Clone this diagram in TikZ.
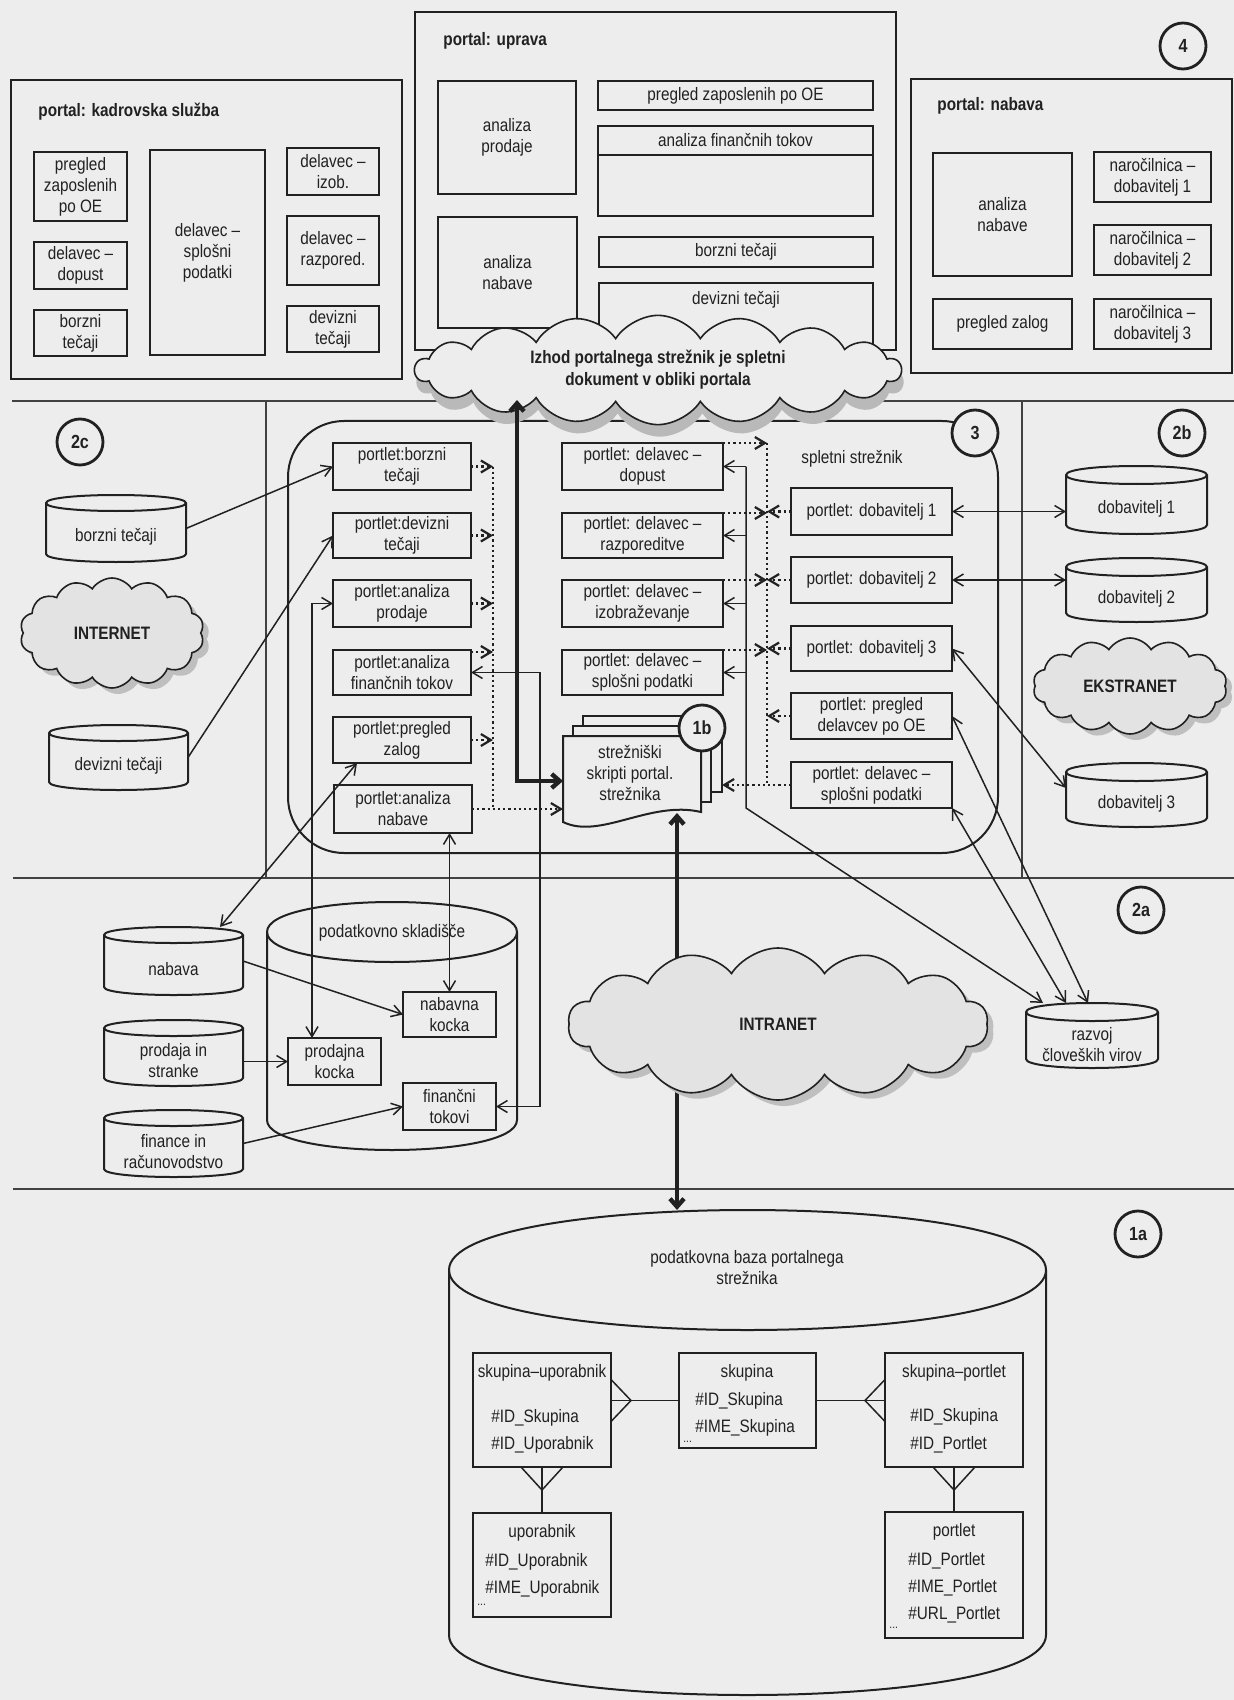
\documentclass[tikz,border=0pt]{standalone}
\usepackage{fontspec}
\setmainfont{Liberation Sans}[FakeStretch=0.85]
\usetikzlibrary{arrows.meta,shapes.symbols,shadows}

\definecolor{bg}{gray}{0.93}
\definecolor{ink}{gray}{0.13}

\tikzset{
  sb/.tip={Straight Barb[length=5pt,width=6pt]},
  ln/.style={draw=ink, line width=1pt},
  bx/.style={ln, fill=bg, inner sep=0pt, outer sep=0pt, align=center, text=ink, font=\fontsize{9}{10.5}\selectfont},
  ttl/.style={anchor=west, inner sep=0pt, text=ink, font=\bfseries\fontsize{9}{10.5}\selectfont},
  txt/.style={inner sep=0pt, align=center, text=ink, font=\fontsize{9}{10.5}\selectfont},
  attr/.style={inner sep=0pt, anchor=west, text=ink, font=\fontsize{9}{10.5}\selectfont},
  dots/.style={inner sep=0pt, anchor=west, text=ink, font=\fontsize{6}{7}\selectfont},
  num/.style={circle, draw=ink, line width=1.4pt, fill=bg, minimum size=23pt, inner sep=0pt, text=ink, font=\bfseries\fontsize{9.5}{10}\selectfont},
  con/.style={draw=ink, line width=0.75pt},
  arr/.style={con, -sb},
  darr/.style={con, sb-sb},
  dot/.style={draw=ink, line width=1.1pt, dash pattern=on 1.1pt off 1.5pt},
  dotarr/.style={dot, -sb},
  thk/.style={draw=ink, line width=2.2pt, {Straight Barb[length=4pt,width=7pt]}-{Straight Barb[length=4pt,width=7pt]}},
  sep/.style={draw=ink!85, line width=1pt},
  net/.style={cloud, cloud puffs=14, cloud puff arc=115, cloud ignores aspect, draw=ink, line width=0.8pt, fill=gray!22, text=ink, font=\bfseries\fontsize{9}{10.5}\selectfont, drop shadow={shadow xshift=3pt, shadow yshift=-3pt, fill=gray!50, opacity=1}},
}

\newcommand\mybox[6]{\node[bx, minimum width={(#4-#2)*0.5pt}, minimum height={(#5-#3)*0.5pt}] (#1) at ({(#2+#4)/2},{(#3+#5)/2}) {#6};}

\newcommand\mycyl[7]{%
  \pgfmathsetmacro\cyA{#3+#6}%
  \pgfmathsetmacro\cyB{#5-#6}%
  \pgfmathsetmacro\cyAu{#3+#6-1.3333*#6}%
  \pgfmathsetmacro\cyAd{#3+#6+1.3333*#6}%
  \pgfmathsetmacro\cyBd{#5-#6+1.3333*#6}%
  \draw[ln, fill=bg] (#2,\cyA) .. controls (#2,\cyAu) and (#4,\cyAu) .. (#4,\cyA) -- (#4,\cyB) .. controls (#4,\cyBd) and (#2,\cyBd) .. (#2,\cyB) -- cycle;
  \draw[ln] (#2,\cyA) .. controls (#2,\cyAd) and (#4,\cyAd) .. (#4,\cyA);
  \node[inner sep=0pt, outer sep=0pt, minimum width={(#4-#2)*0.5pt}, minimum height={(#5-#3)*0.5pt}] (#1) at ({(#2+#4)/2},{(#3+#5)/2}) {};
  \node[txt] (#1t) at ({(#2+#4)/2},{(#3+2*#6+#5)/2}) {#7};
}

\begin{document}
\begin{tikzpicture}[x=0.5pt,y=-0.5pt]
\fill[bg] (0,0) rectangle (1234,1700);
\useasboundingbox (0,0) rectangle (1234,1700);

% ---------- separators
\draw[sep] (12,401) -- (1234,401);
\draw[sep] (13,878) -- (1234,878);
\draw[sep] (13,1189) -- (1234,1189);
\draw[sep] (266,401) -- (266,878);
\draw[sep] (1022,401) -- (1022,878);

% ---------- portal: kadrovska sluzba
\draw[ln] (11,80) rectangle (402,379);
\node[ttl] (tk) at (38,112) {portal: kadrovska služba};
\mybox{kpz}{34}{152}{127}{221}{pregled\\zaposlenih\\po OE}
\mybox{kdd}{34}{242}{127}{289}{delavec –\\dopust}
\mybox{kbt}{34}{310}{127}{356}{borzni\\tečaji}
\mybox{ksp}{150}{150}{265}{355}{delavec –\\splošni\\podatki}
\mybox{kiz}{287}{148}{379}{195}{delavec –\\izob.}
\mybox{kra}{287}{216}{379}{285}{delavec –\\razpored.}
\mybox{kdt}{287}{306}{379}{352}{devizni\\tečaji}

% ---------- portal: uprava
\draw[ln] (415,12) rectangle (896,350);
\node[ttl] (tu) at (443,41) {portal: uprava};
\mybox{uap}{438}{81}{576}{194}{analiza\\prodaje}
\mybox{uan}{438}{217}{577}{328}{analiza\\nabave}
\mybox{upz}{598}{81}{873}{110}{pregled zaposlenih po OE}
\mybox{uaf}{598}{126}{873}{155}{analiza finančnih tokov}
\mybox{uafx}{598}{155}{873}{216}{}
\mybox{ubt}{599}{237}{873}{267}{borzni tečaji}
\draw[ln] (599,345) |- (873,283) -- (873,345);
\node[txt] (udt) at (736,300) {devizni tečaji};

% ---------- portal: nabava
\draw[ln] (911,79) rectangle (1232,373);
\node[ttl] (tn) at (937,106) {portal: nabava};
\mybox{nan}{933}{153}{1072}{276}{analiza\\nabave}
\mybox{nd1}{1094}{152}{1211}{202}{naročilnica –\\dobavitelj 1}
\mybox{nd2}{1094}{225}{1211}{275}{naročilnica –\\dobavitelj 2}
\mybox{npz}{933}{299}{1072}{349}{pregled zalog}
\mybox{nd3}{1094}{299}{1211}{349}{naročilnica –\\dobavitelj 3}
\node[num] (c4) at (1183,46) {4};

% ---------- middle container + output cloud
\draw[ln, rounded corners=28pt] (288,421) rectangle (998,853);
\node[cloud, cloud puffs=18, cloud puff arc=115, cloud ignores aspect, draw=ink, line width=0.8pt, fill=bg,
      minimum width=243pt, minimum height=54pt, align=center, text=ink,
      font=\bfseries\fontsize{9}{11}\selectfont,
      drop shadow={shadow xshift=1pt, shadow yshift=-6pt, fill=gray!55, opacity=1}]
      (izhod) at (658,370) {Izhod portalnega strežnik je spletni\\dokument v obliki portala};

\node[num] (c2c) at (80,442) {2c};
\node[num] (c3) at (975,433) {3};
\node[num] (c2b) at (1182,433) {2b};

% 2c: internet sources
\mycyl{borzni}{46}{495}{186}{562}{8}{borzni tečaji}
\node[net, minimum width=92pt, minimum height=55pt] (internet) at (112,633) {INTERNET};
\mycyl{devizni}{49}{725}{188}{790}{8}{devizni tečaji}

% left portlets
\mybox{pbt}{333}{443}{471}{490}{portlet:borzni\\tečaji}
\mybox{pdt}{333}{513}{471}{558}{portlet:devizni\\tečaji}
\mybox{pap}{333}{580}{471}{627}{portlet:analiza\\prodaje}
\mybox{paf}{333}{650}{471}{695}{portlet:analiza\\finančnih tokov}
\mybox{ppz}{333}{717}{471}{763}{portlet:pregled\\zalog}
\mybox{pan}{334}{785}{472}{833}{portlet:analiza\\nabave}

% middle portlets
\mybox{dd}{562}{443}{723}{490}{portlet: delavec –\\dopust}
\mybox{dr}{562}{513}{723}{558}{portlet: delavec –\\razporeditve}
\mybox{di}{562}{580}{723}{627}{portlet: delavec –\\izobraževanje}
\mybox{ds}{562}{650}{723}{695}{portlet: delavec –\\splošni podatki}

% right portlets
\node[txt] (spl) at (852,459) {spletni strežnik};
\mybox{rd1}{791}{488}{952}{535}{portlet: dobavitelj 1}
\mybox{rd2}{791}{557}{952}{603}{portlet: dobavitelj 2}
\mybox{rd3}{791}{626}{952}{671}{portlet: dobavitelj 3}
\mybox{rpd}{791}{693}{952}{739}{portlet: pregled\\delavcev po OE}
\mybox{rsp}{791}{762}{952}{808}{portlet: delavec –\\splošni podatki}

% 2b: extranet
\mycyl{dob1}{1066}{466}{1207}{534}{9}{dobavitelj 1}
\mycyl{dob2}{1066}{558}{1207}{622}{9}{dobavitelj 2}
\node[net, minimum width=97pt, minimum height=48pt] (ekstranet) at (1130,686) {EKSTRANET};
\mycyl{dob3}{1066}{763}{1207}{827}{9}{dobavitelj 3}

% 1b: server scripts (stacked documents)
\draw[ln, fill=bg] (583,716) rectangle (722,792);
\draw[ln, fill=bg] (573,726) rectangle (711,802);
\draw[ln, fill=bg] (563,736) -- (701,736) -- (701,812) .. controls (650,800) and (600,840) .. (563,822) -- cycle;
\node[inner sep=0pt, outer sep=0pt, minimum width=69pt, minimum height=45pt] (doc) at (632,781) {};
\node[inner sep=0pt, outer sep=0pt, minimum width=69.5pt, minimum height=38pt] (doc3) at (652.5,754) {};
\node[txt] (doct) at (630,773) {strežniški\\skripti portal.\\strežnika};
\node[num] (c1b) at (702,728) {1b};

% ---------- data warehouse section
\mycyl{nabava}{104}{927}{243}{995}{8}{nabava}
\mycyl{prodaja}{104}{1020}{243}{1086}{8}{prodaja in\\stranke}
\mycyl{finance}{104}{1110}{243}{1177}{8}{finance in\\računovodstvo}
\mycyl{wh}{267}{902}{517}{1150}{30}{}
\node[txt] (whl) at (392,933) {podatkovno skladišče};
\mybox{nk}{403}{992}{496}{1037}{nabavna\\kocka}
\mybox{pk}{288}{1038}{381}{1085}{prodajna\\kocka}
\mybox{ft}{403}{1083}{496}{1130}{finančni\\tokovi}

\node[num] (c2a) at (1141,910) {2a};
\mycyl{razvoj}{1026}{1003}{1158}{1068}{9}{razvoj\\človeških virov}

% ---------- portal server database
\mycyl{db}{449}{1210}{1046}{1695}{60}{}
\node[txt] (dbl) at (747,1268) {podatkovna baza portalnega\\strežnika};
\node[num] (c1a) at (1138,1234) {1a};

\mybox{su}{473}{1353}{611}{1467}{}
\mybox{sk}{679}{1353}{816}{1448}{}
\mybox{sp}{885}{1353}{1023}{1467}{}
\mybox{up}{473}{1513}{611}{1617}{}
\mybox{po}{885}{1512}{1023}{1638}{}
\node[txt] (su1) at (542,1373) {skupina–uporabnik};
\node[attr] (su2) at (491,1418) {\#ID\_Skupina};
\node[attr] (su3) at (491,1445) {\#ID\_Uporabnik};
\node[txt] (sk1) at (747,1373) {skupina};
\node[attr] (sk2) at (695,1401) {\#ID\_Skupina};
\node[attr] (sk3) at (695,1428) {\#IME\_Skupina};
\node[dots] (sk4) at (683,1442) {...};
\node[txt] (sp1) at (954,1373) {skupina–portlet};
\node[attr] (sp2) at (910,1417) {\#ID\_Skupina};
\node[attr] (sp3) at (910,1445) {\#ID\_Portlet};
\node[txt] (up1) at (542,1533) {uporabnik};
\node[attr] (up2) at (485,1562) {\#ID\_Uporabnik};
\node[attr] (up3) at (485,1589) {\#IME\_Uporabnik};
\node[dots] (up4) at (477,1605) {...};
\node[txt] (po1) at (954,1532) {portlet};
\node[attr] (po2) at (908,1561) {\#ID\_Portlet};
\node[attr] (po3) at (908,1588) {\#IME\_Portlet};
\node[attr] (po4) at (908,1615) {\#URL\_Portlet};
\node[dots] (po5) at (889,1628) {...};

% ER relations (crow's feet)
\coordinate (f1) at (sk.west -| su.east);
\draw[con] (f1) -- (sk.west);
\draw[con] ([yshift=10.5pt]f1) -- ([xshift=10pt]f1) -- ([yshift=-10.5pt]f1);
\coordinate (f2) at (sk.east -| sp.west);
\draw[con] (sk.east) -- (f2);
\draw[con] ([yshift=10.5pt]f2) -- ([xshift=-10pt]f2) -- ([yshift=-10.5pt]f2);
\draw[con] (su.south) -- (up.north);
\draw[con] ([xshift=-10.5pt]su.south) -- ([yshift=-11.5pt]su.south) -- ([xshift=10.5pt]su.south);
\draw[con] (sp.south) -- (po.north);
\draw[con] ([xshift=-10.5pt]sp.south) -- ([yshift=-11.5pt]sp.south) -- ([xshift=10.5pt]sp.south);

% ---------- thick arrows
\coordinate (upend) at (517,400);
\draw[thk] (doc.west) -| (upend);
\coordinate (docb) at (677,813);
\draw[thk] (docb) -- (db.north -| docb);

\node[net, minimum width=210pt, minimum height=76pt] (intranet) at (778,1024) {INTRANET};

% ---------- thin connectors
\draw[arr] (borzni.east) -- (pbt.west);
\draw[arr] (devizni.east) -- (pdt.west);
\draw[darr] (pap.west) -| ([xshift=12pt]pk.north west);
\draw[darr] (pan.south -| nk.north) -- (nk.north);
\draw[darr] ([xshift=-11.5pt]nabava.north east) -- ([xshift=12pt]ppz.south west);
\draw[arr] (nabava.east) -- (nk.west);
\draw[arr] (prodaja.east |- pk.west) -- (pk.west);
\draw[arr] (finance.east) -- (ft.west);
\coordinate (fbus) at (540,700);
\draw[darr] (paf.east) -| (fbus) |- (ft.east);

% left dotted bus to 1b
\coordinate (lbus) at (493,600);
\draw[dotarr] (pbt.east) -- (pbt.east -| lbus);
\draw[dotarr] (pdt.east) -- (pdt.east -| lbus);
\draw[dotarr] (pap.east) -- (pap.east -| lbus);
\draw[dotarr] ([yshift=-1pt]paf.north east) -- ([yshift=-1pt]paf.north east -| lbus);
\draw[dotarr] (ppz.east) -- (ppz.east -| lbus);
\draw[dot] (pbt.east -| lbus) -- (pan.east -| lbus);
\draw[dotarr] (pan.east) -- (pan.east -| doc.west);

% right dotted bus to 1b
\coordinate (rbus) at (767,600);
\draw[dotarr] (dd.north east) -- (dd.north east -| rbus);
\draw[dotarr] (dr.north east) -- (dr.north east -| rbus);
\draw[dotarr] (di.north east) -- (di.north east -| rbus);
\draw[dotarr] (ds.north east) -- (ds.north east -| rbus);
\draw[dotarr] (rd1.west) -- (rd1.west -| rbus);
\draw[dotarr] (rd2.west) -- (rd2.west -| rbus);
\draw[dotarr] (rd3.west) -- (rd3.west -| rbus);
\draw[dotarr] (rpd.west) -- (rpd.west -| rbus);
\draw[dot] (dd.north east -| rbus) -- (rsp.west -| rbus);
\draw[dotarr] (rsp.west) -- (rsp.west -| doc3.east);

% employee portlets to HR development
\coordinate (dbus) at (746,600);
\coordinate (dbend) at (746,808);
\draw[arr] (dd.east -| dbus) -- (dd.east);
\draw[arr] (dr.east -| dbus) -- (dr.east);
\draw[arr] (di.east -| dbus) -- (di.east);
\draw[arr] (ds.east -| dbus) -- (ds.east);
\draw[arr] (dd.east -| dbus) -- (dbend) -- ([xshift=8.5pt]razvoj.north west);

% supplier portlets
\draw[darr] (rd1.east) -- (rd1.east -| dob1.west);
\draw[darr] (rd2.east) -- (rd2.east -| dob2.west);
\draw[darr] (rd3.east) -- ([yshift=-12.5pt]dob3.north west);
\draw[darr] (rpd.east) -- ([xshift=31pt]razvoj.north west);
\draw[darr] (rsp.south east) -- ([xshift=20pt]razvoj.north west);
\end{tikzpicture}
\end{document}
